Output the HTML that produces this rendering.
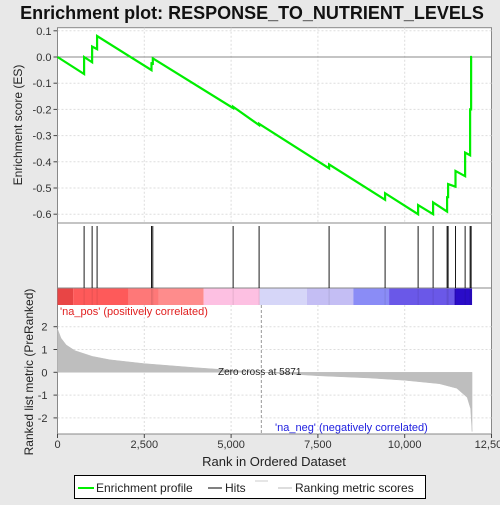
<!DOCTYPE html>
<html><head><meta charset="utf-8"><style>
body{margin:0;background:#e8e8e8;font-family:"Liberation Sans",sans-serif}
svg text{font-family:"Liberation Sans",sans-serif}
</style></head><body>
<svg id="c" width="500" height="500" xmlns="http://www.w3.org/2000/svg">
<rect width="500" height="500" fill="#e8e8e8"/>
<text x="252" y="19" text-anchor="middle" font-size="18" font-weight="bold" fill="#111">Enrichment plot: RESPONSE_TO_NUTRIENT_LEVELS</text>
</svg>
<script>
const hitRanks=[766,997,1140,2707,2745,5058,5806,7822,9435,10386,10818,11221,11250,11463,11740,11884,11913];
const esBefore=[-0.065,-0.02,0.03,-0.05,-0.03,-0.195,-0.26,-0.425,-0.545,-0.6,-0.6,-0.59,-0.535,-0.495,-0.455,-0.375,-0.2];
const esAfter=[0.0,0.04,0.08,-0.02,-0.005,-0.19,-0.255,-0.41,-0.52,-0.565,-0.555,-0.535,-0.485,-0.435,-0.365,-0.2,0.0];
const metricRanks=[0,50,100,250,500,1000,1500,2500,4000,5871,7500,9000,10000,11000,11500,11800,11900,11940];
const metricVals=[1.9,1.7,1.5,1.2,0.95,0.7,0.55,0.38,0.2,0,-0.15,-0.25,-0.35,-0.5,-0.7,-1.1,-1.6,-2.6];
const xTicks=[0,2500,5000,7500,10000,12500];
const xTickLabels=["0","2,500","5,000","7,500","10,000","12,500"];
const esTicks=[0.1,0.0,-0.1,-0.2,-0.3,-0.4,-0.5,-0.6];
const mTicks=[2,1,0,-1,-2];
const barEdges=[0,450,2050,2920,4210,5820,7180,8520,9550,11430,11940];
const barColors=["#e84545","#fe5a5a","#fe7878","#fe8c8c","#fdc0e2","#d6d6f8","#c4bef4","#8a8cf6","#6a58e8","#2a0cc8"];
const N=11940, zeroCross=5871;
const L=57.5,R=491.5,xs=r=>L+r*(R-L)/12500;
const yE=v=>57-v*262;
const yM=v=>372.3-v*22.8;
const svg=document.getElementById('c');const NS="http://www.w3.org/2000/svg";
function mk(t,a,p){const e=document.createElementNS(NS,t);for(const k in a)e.setAttribute(k,a[k]);(p||svg).appendChild(e);return e;}
let e;
e=mk('rect',{x:L,y:27.7,width:R-L,height:195.3,fill:"#fff",stroke:"#888"});


e=mk('rect',{x:L,y:223,width:R-L,height:65,fill:"#fff",stroke:"#888"});


e=mk('rect',{x:L,y:288,width:R-L,height:146,fill:"#fff",stroke:"#888"});


xTicks.forEach((t,i)=>{
 if(i>0&&i<5){mk('line',{x1:xs(t),x2:xs(t),y1:27.7,y2:223,stroke:"#ddd","stroke-dasharray":"2,2"});
 mk('line',{x1:xs(t),x2:xs(t),y1:305,y2:434,stroke:"#ddd","stroke-dasharray":"2,2"});}
 mk('line',{x1:xs(t),x2:xs(t),y1:434,y2:438,stroke:"#444"});
 e=mk('text',{x:xs(t),y:448,"text-anchor":"middle","font-size":11,fill:"#333"});e.textContent=xTickLabels[i];
 
 
});
esTicks.forEach(t=>{
 if(t!==0)mk('line',{x1:L,x2:R,y1:yE(t),y2:yE(t),stroke:"#ddd","stroke-dasharray":"2,2"});
 mk('line',{x1:L-4,x2:L,y1:yE(t),y2:yE(t),stroke:"#444"});
 e=mk('text',{x:L-6,y:yE(t)+4,"text-anchor":"end","font-size":11,fill:"#333"});e.textContent=t.toFixed(1);
 
 
});
mk('line',{x1:L,x2:R,y1:yE(0),y2:yE(0),stroke:"#888"});
mTicks.forEach(t=>{
 if(t!==0)mk('line',{x1:L,x2:R,y1:yM(t),y2:yM(t),stroke:"#ddd","stroke-dasharray":"2,2"});
 mk('line',{x1:L-4,x2:L,y1:yM(t),y2:yM(t),stroke:"#444"});
 e=mk('text',{x:L-10,y:yM(t)+4,"text-anchor":"end","font-size":11,fill:"#333"});e.textContent=t;
 
 
});
barColors.forEach((c,i)=>{e=mk('rect',{x:xs(barEdges[i]),y:288.5,width:xs(barEdges[i+1])-xs(barEdges[i]),height:16.5,fill:c});
 
 });
hitRanks.forEach(r=>{e=mk('line',{x1:xs(r),x2:xs(r),y1:226,y2:288,stroke:"#000","stroke-width":0.9});
 
 
 mk('line',{x1:xs(r),x2:xs(r),y1:288.5,y2:305,stroke:"rgba(0,0,0,0.12)","stroke-width":0.8});});
let d=`M${xs(0)},${yE(0)}`;
hitRanks.forEach((r,i)=>{d+=` L${xs(r)},${yE(esBefore[i])} L${xs(r)},${yE(esAfter[i])}`;});
d+=` L${xs(N)},${yE(0)}`;
e=mk('path',{d:d,fill:"none",stroke:"#00ee00","stroke-width":2.2});


let m=`M${xs(0)},${yM(0)}`;
metricRanks.forEach((r,i)=>{m+=` L${xs(r)},${yM(metricVals[i])}`;});
m+=` L${xs(N)},${yM(0)} Z`;
e=mk('path',{d:m,fill:"#bebebe",stroke:"#bebebe","stroke-width":0.5});


mk('line',{x1:xs(zeroCross),x2:xs(zeroCross),y1:305,y2:434,stroke:"#999","stroke-dasharray":"3,2"});
e=mk('text',{x:218,y:375,"font-size":10,fill:"#222"});e.textContent="Zero cross at 5871";


e=mk('text',{x:60,y:315,"font-size":11,fill:"#e02020"});e.textContent="'na_pos' (positively correlated)";


e=mk('text',{x:275,y:431,"font-size":11,fill:"#2020e0"});e.textContent="'na_neg' (negatively correlated)";


e=mk('text',{x:274,y:466,"text-anchor":"middle","font-size":13,fill:"#222"});e.textContent="Rank in Ordered Dataset";


e=mk('text',{x:0,y:0,"text-anchor":"middle","font-size":12,fill:"#222",transform:"translate(22,125) rotate(-90)"});e.textContent="Enrichment score (ES)";


e=mk('text',{x:0,y:0,"text-anchor":"middle","font-size":12,fill:"#222",transform:"translate(33,372) rotate(-90)"});e.textContent="Ranked list metric (PreRanked)";


e=mk('rect',{x:74.5,y:475.5,width:351,height:23,fill:"#fff",stroke:"#000"});


mk('line',{x1:78,x2:94,y1:488,y2:488,stroke:"#00ee00","stroke-width":2});
e=mk('text',{x:96,y:492,"font-size":12,fill:"#222"});e.textContent="Enrichment profile";


mk('line',{x1:208,x2:222,y1:488,y2:488,stroke:"#000","stroke-width":1});
e=mk('text',{x:225,y:492,"font-size":12,fill:"#222"});e.textContent="Hits";


mk('line',{x1:255,x2:268,y1:481,y2:481,stroke:"#ccc","stroke-width":1});
mk('line',{x1:278,x2:292,y1:488,y2:488,stroke:"#bbb","stroke-width":1});
e=mk('text',{x:295,y:492,"font-size":12,fill:"#222"});e.textContent="Ranking metric scores";


</script>
</body></html>
